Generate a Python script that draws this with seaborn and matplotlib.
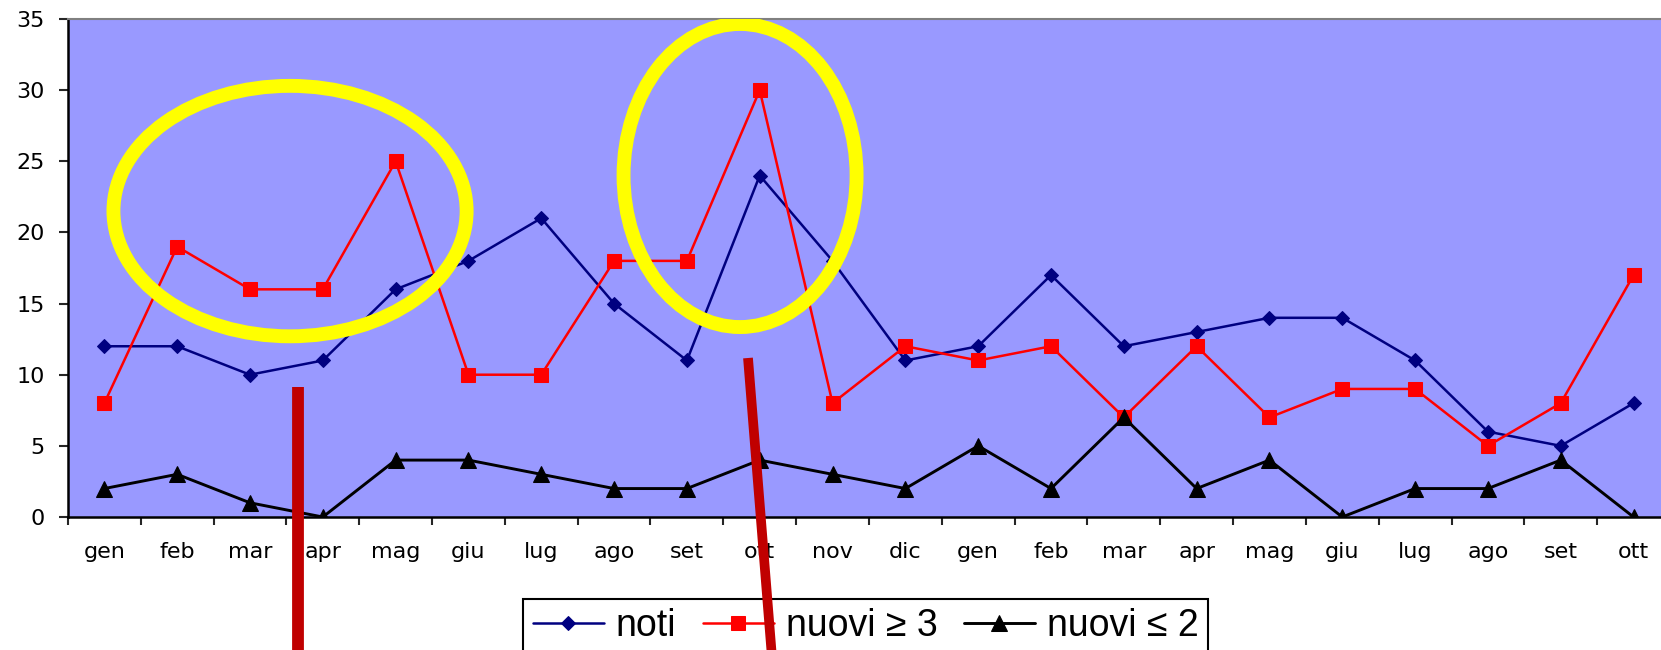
import matplotlib
matplotlib.use('Agg')
import matplotlib.pyplot as plt
from matplotlib.patches import Ellipse
from matplotlib.lines import Line2D
import numpy as np
import seaborn as sns

# dati
mesi = ['gen', 'feb', 'mar', 'apr', 'mag', 'giu', 'lug', 'ago', 'set', 'ott', 'nov',
        'dic', 'gen', 'feb', 'mar', 'apr', 'mag', 'giu', 'lug', 'ago', 'set', 'ott']
noti = [12, 12, 10, 11, 16, 18, 21, 15, 11, 24, 18, 11, 12, 17, 12, 13, 14, 14, 11, 6, 5, 8]
nuovi_ge3 = [8, 19, 16, 16, 25, 10, 10, 18, 18, 30, 8, 12, 11, 12, 7, 12, 7, 9, 9, 5, 8, 17]
nuovi_le2 = [2, 3, 1, 0, 4, 4, 3, 2, 2, 4, 3, 2, 5, 2, 7, 2, 4, 0, 2, 2, 4, 0]

sns.set_style('white')
plt.rcParams['font.family'] = ['Liberation Sans', 'DejaVu Sans']

fig = plt.figure(figsize=(16.61, 6.5), dpi=100)
# l'area del grafico esce leggermente a destra della figura, come nell'originale
ax = fig.add_axes([0.0409, 0.2046, 0.9645, 0.7662])
ax.set_facecolor('#9999FF')

x = np.arange(len(mesi))
sns.lineplot(x=x, y=noti, ax=ax, color='#000080', marker='D', markersize=7.5,
             markeredgecolor='#000080', linewidth=1.8, label='noti')
sns.lineplot(x=x, y=nuovi_ge3, ax=ax, color='#FF0000', marker='s', markersize=9.5,
             markeredgecolor='#FF0000', linewidth=1.8, label='nuovi ≥ 3')
sns.lineplot(x=x, y=nuovi_le2, ax=ax, color='#000000', marker='^', markersize=12,
             markeredgecolor='#000000', linewidth=2.1, label='nuovi ≤ 2')

ax.set_xlim(-0.5, len(mesi) - 0.5)
ax.set_ylim(0, 35)
ax.set_yticks(range(0, 36, 5))
ax.set_xticks(x)
ax.set_xticklabels(mesi)
ax.set_xticks(np.arange(-0.5, len(mesi), 1), minor=True)
ax.tick_params(axis='x', which='major', length=0, pad=18, labelsize=16, labelcolor='black')
ax.tick_params(axis='x', which='minor', length=6, width=1.5, direction='out', bottom=True)
ax.tick_params(axis='y', length=6.5, width=1.5, direction='out', left=True, labelsize=16,
               pad=10, labelcolor='black')
for lab in ax.get_xticklabels() + ax.get_yticklabels():
    lab.set_fontfamily('DejaVu Sans')

ax.spines['top'].set_color('#808080')
ax.spines['top'].set_linewidth(1.5)
ax.spines['right'].set_visible(False)
for s in ['left', 'bottom']:
    ax.spines[s].set_color('black')
    ax.spines[s].set_linewidth(1.8)

# cerchi gialli
ax.add_patch(Ellipse((2.55, 21.5), 4.85, 17.6, fill=False, edgecolor='#FFFF00',
                     linewidth=10, zorder=5))
ax.add_patch(Ellipse((8.73, 24.0), 3.2, 21.3, fill=False, edgecolor='#FFFF00',
                     linewidth=10, zorder=5))

leg = ax.legend(loc='upper left', bbox_to_anchor=(0.315, 0.0785),
                bbox_transform=fig.transFigure, ncol=3,
                fontsize=27, frameon=True, fancybox=False, handlelength=1.9,
                handletextpad=0.32, columnspacing=0.7, borderpad=0.25,
                borderaxespad=0)
leg.get_frame().set_edgecolor('black')
leg.get_frame().set_linewidth(1.5)
leg.get_frame().set_alpha(1)
for t in leg.get_texts():
    t.set_color('black')

# linee rosse in coordinate figura
fig.add_artist(Line2D([298 / 1661, 298 / 1661], [1 - 387 / 650, -0.05],
                      color='#C00000', linewidth=8.5, solid_capstyle='butt', zorder=10))
fig.add_artist(Line2D([748 / 1661, 774 / 1661], [1 - 358 / 650, -0.05],
                      color='#C00000', linewidth=7, solid_capstyle='butt', zorder=10))

fig.savefig('out.png', dpi=100)
